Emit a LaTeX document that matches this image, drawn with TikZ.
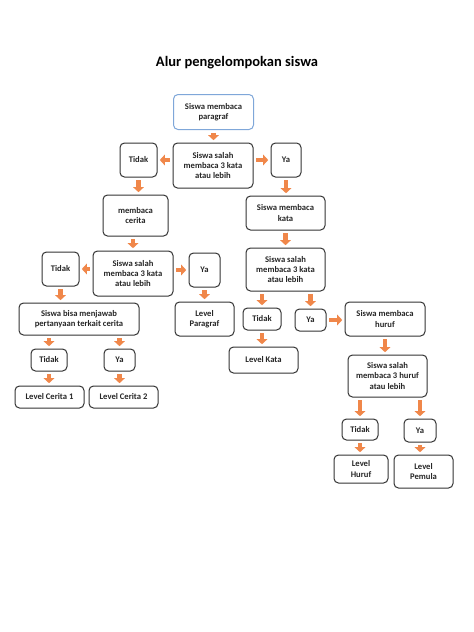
\documentclass[tikz,border=0pt]{standalone}
\usepackage{fontspec}
\setmainfont{Carlito}
\usetikzlibrary{arrows.meta,calc}
\definecolor{arr}{HTML}{F0874A}
\definecolor{bord}{HTML}{333333}
\definecolor{blueb}{HTML}{7FA7D9}
\tikzset{
  box/.style={draw=bord, line width=1pt, rounded corners=4.5pt, fill=white, align=center,
    inner sep=1pt, font=\bfseries\fontsize{8.6}{10.3}\selectfont, text=black!85},
  fat/.style={draw=arr, line width=4.6pt, shorten <=2.8pt, shorten >=2.3pt,
    -{Triangle[width=10.5pt,length=5pt]}},
}
\begin{document}
\begin{tikzpicture}[x=1pt,y=-1pt]
\useasboundingbox (0,0) rectangle (474,632);
\node[font=\bfseries\fontsize{14.5}{17}\selectfont] (title) at (237,63) {Alur pengelompokan siswa};

\node[box, draw=blueb, minimum width=80, minimum height=35] (B1) at (213.5,112) {Siswa membaca\\paragraf};
\node[box, minimum width=80, minimum height=45] (B2) at (213,165.5) {Siswa salah\\membaca 3 kata\\atau lebih};
\node[box, minimum width=37, minimum height=34] (T1) at (138.5,160) {Tidak};
\node[box, minimum width=30, minimum height=34] (Y1) at (286,160) {Ya};
\node[box, minimum width=65, minimum height=41] (MC) at (135.5,215.5) {membaca\\cerita};
\node[box, minimum width=79, minimum height=34] (MK) at (285.5,213) {Siswa membaca\\kata};
\node[box, minimum width=80, minimum height=45] (BL) at (133,273.5) {Siswa salah\\membaca 3 kata\\atau lebih};
\node[box, minimum width=37, minimum height=34] (T2) at (60.5,269) {Tidak};
\node[box, minimum width=31, minimum height=34] (Y2) at (204.5,270) {Ya};
\node[box, minimum width=79, minimum height=43] (BR) at (285.5,269.5) {Siswa salah\\membaca 3 kata\\atau lebih};
\node[box, minimum width=120, minimum height=32] (BJ) at (79,319) {Siswa bisa menjawab\\pertanyaan terkait cerita};
\node[box, minimum width=59, minimum height=34] (LP) at (204.5,319) {Level\\Paragraf};
\node[box, minimum width=38, minimum height=22] (T4) at (262,319) {Tidak};
\node[box, minimum width=31, minimum height=22] (Y4) at (310.5,320) {Ya};
\node[box, minimum width=80, minimum height=34] (MH) at (385,319) {Siswa membaca\\huruf};
\node[box, minimum width=69, minimum height=26] (LK) at (263.5,360) {Level Kata};
\node[box, minimum width=79, minimum height=42] (BH) at (387.5,376) {Siswa salah\\membaca 3 huruf\\atau lebih};
\node[box, minimum width=36, minimum height=22] (T3) at (49,360) {Tidak};
\node[box, minimum width=31, minimum height=22] (Y3) at (119.5,360) {Ya};
\node[box, minimum width=69, minimum height=22] (LC1) at (49.5,397) {Level Cerita 1};
\node[box, minimum width=69, minimum height=22] (LC2) at (123.5,397) {Level Cerita 2};
\node[box, minimum width=36, minimum height=21] (T5) at (360,429.5) {Tidak};
\node[box, minimum width=32, minimum height=23] (Y5) at (420,430.5) {Ya};
\node[box, minimum width=54, minimum height=28] (LH) at (361,469) {Level\\Huruf};
\node[box, minimum width=59, minimum height=33] (LPm) at (423.5,471.5) {Level\\Pemula};

\draw[fat] (B1.south) -- (B1.south |- B2.north);
\draw[fat] (B2.west |- T1.east) -- (T1.east);
\draw[fat] (B2.east |- Y1.west) -- (Y1.west);
\draw[fat] (T1.south) -- (T1.south |- MC.north);
\draw[fat] (Y1.south) -- (Y1.south |- MK.north);
\draw[fat] (BL.north |- MC.south) -- (BL.north);
\draw[fat] (MK.south) -- (MK.south |- BR.north);
\draw[fat] (BL.west |- T2.east) -- (T2.east);
\draw[fat] (BL.east |- Y2.west) -- (Y2.west);
\draw[fat] (T2.south) -- (T2.south |- BJ.north);
\draw[fat] (Y2.south) -- (Y2.south |- LP.north);
\draw[fat] (T3.north |- BJ.south) -- (T3.north);
\draw[fat] (Y3.north |- BJ.south) -- (Y3.north);
\draw[fat] (T3.south) -- (T3.south |- LC1.north);
\draw[fat] (Y3.south) -- (Y3.south |- LC2.north);
\draw[fat] (T4.north |- BR.south) -- (T4.north);
\draw[fat] (Y4.north |- BR.south) -- (Y4.north);
\draw[fat] (Y4.east) -- (Y4.east -| MH.west);
\draw[fat] (T4.south) -- (T4.south |- LK.north);
\draw[fat] (MH.south) -- (MH.south |- BH.north);
\draw[fat] (T5.north |- BH.south) -- (T5.north);
\draw[fat] (Y5.north |- BH.south) -- (Y5.north);
\draw[fat] (T5.south) -- (T5.south |- LH.north);
\draw[fat] (Y5.south) -- (Y5.south |- LPm.north);
\end{tikzpicture}
\end{document}
